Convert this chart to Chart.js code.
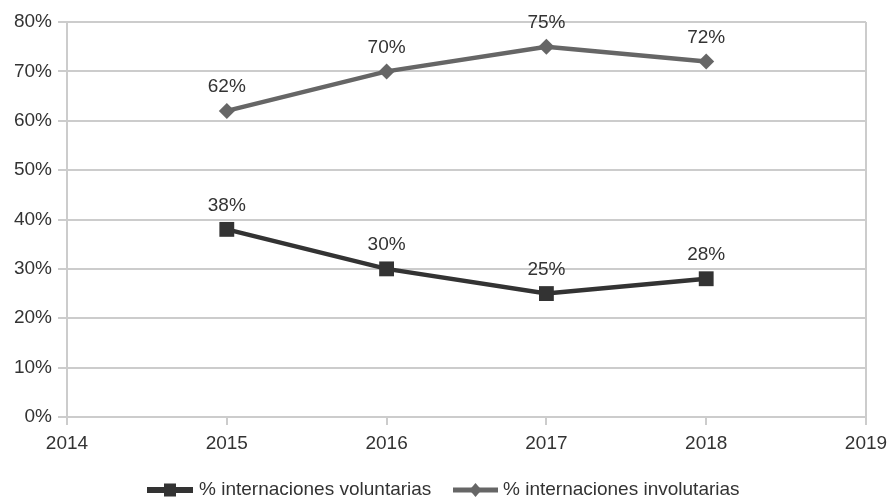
<!DOCTYPE html>
<html>
<head>
<meta charset="utf-8">
<script src="https://cdn.jsdelivr.net/npm/chart.js@4/dist/chart.umd.min.js"></script>
<style>
  html, body { margin: 0; padding: 0; background: #ffffff; }
  #wrap { width: 888px; height: 502px; position: relative; }
</style>
</head>
<body>
<div id="wrap"><canvas id="c" width="888" height="502"></canvas></div>
<script>
const years = [2015, 2016, 2017, 2018];
const voluntarias = [38, 30, 25, 28];
const involuntarias = [62, 70, 75, 72];
const seriesNames = ['% internaciones voluntarias', '% internaciones involutarias'];
const xMin = 2014, xMax = 2019;
const yTicks = [0, 10, 20, 30, 40, 50, 60, 70, 80];

const FONT = '"Liberation Sans", Arial, sans-serif';
const TEXT = '#333333';
const GRID = '#cccccc';
const C_VOL = '#333333';
const C_INV = '#666666';

const labelPlugin = {
  id: 'pointLabels',
  afterDatasetsDraw(chart) {
    const ctx = chart.ctx;
    ctx.save();
    ctx.font = '19px ' + FONT;
    ctx.fillStyle = TEXT;
    ctx.textAlign = 'center';
    ctx.textBaseline = 'middle';
    chart.data.datasets.forEach((ds, i) => {
      const meta = chart.getDatasetMeta(i);
      meta.data.forEach((pt, j) => {
        ctx.fillText(ds.data[j].y + '%', pt.x, pt.y - 24);
      });
    });
    ctx.restore();
  }
};

const legendPlugin = {
  id: 'customLegend',
  afterDraw(chart) {
    const ctx = chart.ctx;
    ctx.save();
    ctx.font = '19px ' + FONT;
    ctx.textBaseline = 'middle'; ctx.textAlign = 'left';
    const y = 490;
    const items = [
      { x0: 147, x1: 193, tx: 199, color: C_VOL, shape: 'rect', lw: 6 },
      { x0: 453, x1: 498, tx: 503, color: C_INV, shape: 'diamond', lw: 5 }
    ];
    items.forEach((it, i) => {
      ctx.strokeStyle = it.color; ctx.lineWidth = it.lw;
      ctx.beginPath(); ctx.moveTo(it.x0, y); ctx.lineTo(it.x1, y); ctx.stroke();
      ctx.fillStyle = it.color;
      const cx = (it.x0 + it.x1) / 2;
      if (it.shape === 'rect') {
        ctx.fillRect(cx - 6, y - 6.5, 12, 13);
      } else {
        ctx.beginPath(); ctx.moveTo(cx, y - 7); ctx.lineTo(cx + 6, y); ctx.lineTo(cx, y + 7); ctx.lineTo(cx - 6, y); ctx.closePath(); ctx.fill();
      }
      ctx.fillStyle = TEXT;
      ctx.fillText(seriesNames[i], it.tx, y);
    });
    ctx.restore();
  }
};

new Chart(document.getElementById('c'), {
  type: 'line',
  data: {
    datasets: [
      {
        label: seriesNames[0],
        data: years.map((y, i) => ({ x: y, y: voluntarias[i] })),
        borderColor: C_VOL, backgroundColor: C_VOL,
        borderWidth: 4.5, pointStyle: 'rect', pointRadius: 10.5, pointHoverRadius: 10.5,
        pointBorderWidth: 0, tension: 0
      },
      {
        label: seriesNames[1],
        data: years.map((y, i) => ({ x: y, y: involuntarias[i] })),
        borderColor: C_INV, backgroundColor: C_INV,
        borderWidth: 4.5, pointStyle: 'rectRot', pointRadius: 8, pointHoverRadius: 8,
        pointBorderWidth: 0, tension: 0
      }
    ]
  },
  options: {
    responsive: false,
    animation: false,
    events: [],
    layout: { padding: { top: 22, right: 22, bottom: 45, left: 0 } },
    plugins: { legend: { display: false }, tooltip: { enabled: false } },
    scales: {
      x: {
        type: 'linear', min: xMin, max: xMax,
        afterBuildTicks(scale) {
          const t = [];
          for (let v = xMin; v <= xMax; v++) t.push({ value: v });
          scale.ticks = t;
        },
        afterFit(scale) { scale.height = 40; scale.paddingRight = 0; scale.paddingLeft = 0; },
        grid: {
          drawOnChartArea: true,
          color: (c) => (c.tick && c.tick.value === xMax ? GRID : 'rgba(0,0,0,0)'),
          tickColor: GRID, tickLength: 8, lineWidth: 2
        },
        border: { display: true, color: GRID, width: 2 },
        ticks: {
          color: TEXT, font: { family: FONT, size: 19 }, padding: 7,
          maxRotation: 0, autoSkip: false,
          callback: (v) => String(v)
        }
      },
      y: {
        min: 0, max: 80,
        afterBuildTicks(scale) { scale.ticks = yTicks.map(v => ({ value: v })); },
        afterFit(scale) { scale.width = 67; scale.paddingTop = 0; scale.paddingBottom = 0; },
        grid: { color: GRID, tickColor: GRID, tickLength: 9, lineWidth: 2 },
        border: { display: true, color: GRID, width: 2 },
        ticks: {
          color: TEXT, font: { family: FONT, size: 19 }, padding: 6,
          callback: (v) => v + '%'
        }
      }
    }
  },
  plugins: [labelPlugin, legendPlugin]
});
</script>
</body>
</html>
